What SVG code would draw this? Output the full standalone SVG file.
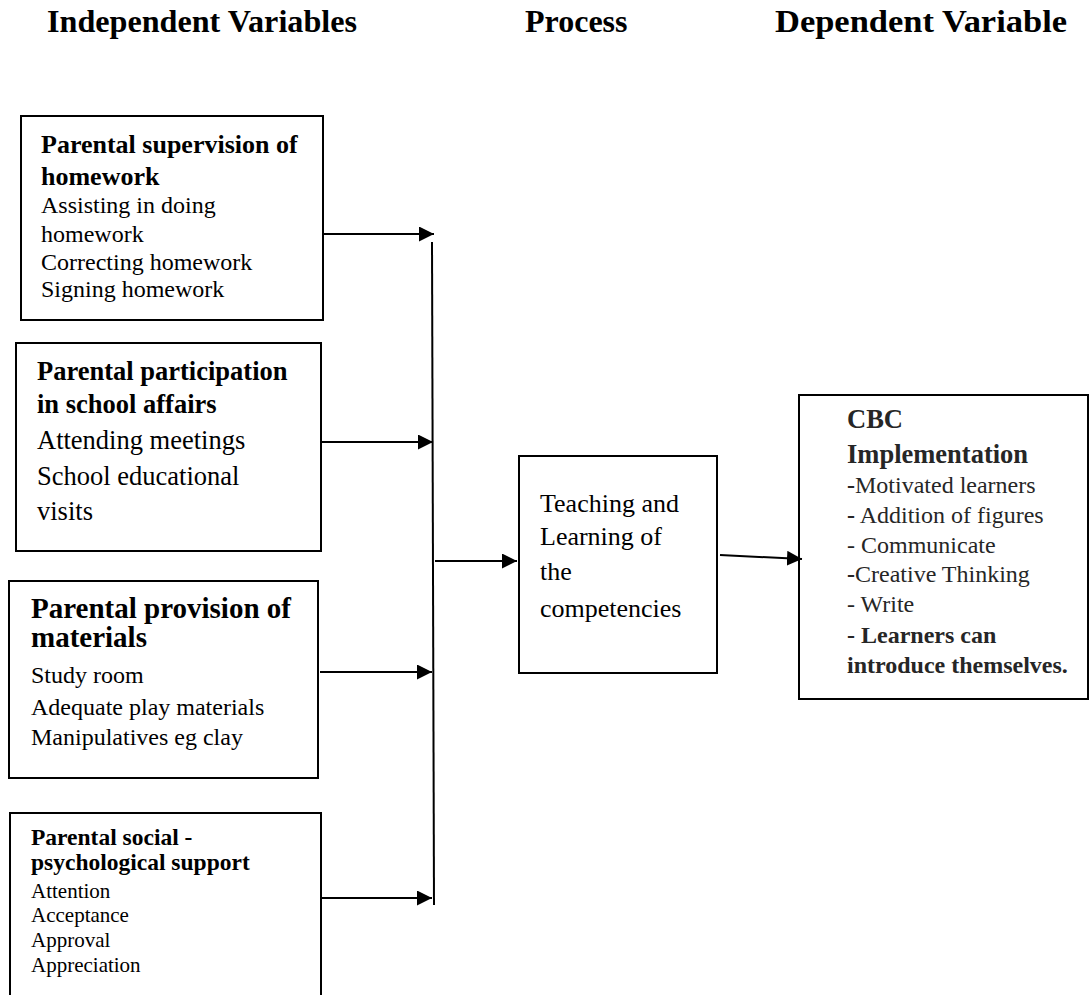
<svg xmlns="http://www.w3.org/2000/svg" width="1091" height="995" viewBox="0 0 1091 995">
  <style>
    text { font-family: "Liberation Serif", "Times New Roman", serif; fill: #000; }
    .hdr { font-size: 32px; font-weight: bold; }
    .box { fill: #fff; stroke: #000; stroke-width: 2; }
    .b { font-weight: bold; }
    .conn { stroke: #000; stroke-width: 2; fill: none; }
    .cbc text { fill: #262626; }
  </style>
  <defs>
    <marker id="arrow" markerUnits="userSpaceOnUse" markerWidth="15" markerHeight="15" refX="15" refY="7.5" orient="auto">
      <path d="M0,0 L15,7.5 L0,15 z" fill="#000"/>
    </marker>
  </defs>
  <rect width="1091" height="995" fill="#fff"/>

  <g id="headers">
    <text class="hdr" x="47" y="32" textLength="310" lengthAdjust="spacingAndGlyphs">Independent Variables</text>
    <text class="hdr" x="525" y="32">Process</text>
    <text class="hdr" x="775" y="32" textLength="292" lengthAdjust="spacingAndGlyphs">Dependent Variable</text>
  </g>

  <g id="supervision">
    <rect class="box" x="21" y="116" width="302" height="204"/>
    <text class="b" x="41" y="153" font-size="26">Parental supervision of</text>
    <text class="b" x="41" y="185" font-size="26">homework</text>
    <text x="41" y="213" font-size="24">Assisting in doing</text>
    <text x="41" y="242" font-size="24">homework</text>
    <text x="41" y="270" font-size="24">Correcting homework</text>
    <text x="41" y="297" font-size="24">Signing homework</text>
  </g>

  <g id="participation">
    <rect class="box" x="16" y="343" width="305" height="208"/>
    <text class="b" x="37" y="380" font-size="26.5">Parental participation</text>
    <text class="b" x="37" y="413" font-size="26.5">in school affairs</text>
    <text x="37" y="449" font-size="26.5">Attending meetings</text>
    <text x="37" y="485" font-size="26.5">School educational</text>
    <text x="37" y="520" font-size="26.5">visits</text>
  </g>

  <g id="provision">
    <rect class="box" x="9" y="581" width="309" height="197"/>
    <text class="b" x="31" y="618" font-size="29">Parental provision of</text>
    <text class="b" x="31" y="647" font-size="29">materials</text>
    <text x="31" y="683" font-size="24">Study room</text>
    <text x="31" y="715" font-size="24">Adequate play materials</text>
    <text x="31" y="745" font-size="24">Manipulatives eg clay</text>
  </g>

  <g id="social">
    <path class="box" d="M10,995 V813 H321 V995"/>
    <text class="b" x="31" y="845" font-size="23.5">Parental social -</text>
    <text class="b" x="31" y="870" font-size="23.5">psychological support</text>
    <text x="31" y="898" font-size="21">Attention</text>
    <text x="31" y="922" font-size="21">Acceptance</text>
    <text x="31" y="947" font-size="21">Approval</text>
    <text x="31" y="972" font-size="21">Appreciation</text>
  </g>

  <g id="process">
    <rect class="box" x="519" y="456" width="198" height="217"/>
    <text x="540" y="512" font-size="26">Teaching and</text>
    <text x="540" y="545" font-size="26">Learning of</text>
    <text x="540" y="580" font-size="26">the</text>
    <text x="540" y="617" font-size="26">competencies</text>
  </g>

  <g id="cbc" class="cbc">
    <rect class="box" x="799" y="395" width="289" height="304"/>
    <text class="b" x="847" y="428" font-size="26.5">CBC</text>
    <text class="b" x="847" y="463" font-size="26.5">Implementation</text>
    <text x="847" y="493" font-size="24"><tspan class="b">-</tspan>Motivated learners</text>
    <text x="847" y="523" font-size="24"><tspan class="b">-</tspan> Addition of figures</text>
    <text x="847" y="553" font-size="24">- Communicate</text>
    <text x="847" y="582" font-size="24"><tspan class="b">-</tspan>Creative Thinking</text>
    <text x="847" y="612" font-size="24">- Write</text>
    <text class="b" x="847" y="643" font-size="24">- Learners can</text>
    <text class="b" x="847" y="673" font-size="24">introduce themselves.</text>
  </g>

  <g id="connectors">
    <line class="conn" x1="432" y1="242" x2="434" y2="905"/>
    <line class="conn" x1="323" y1="234" x2="434" y2="234" marker-end="url(#arrow)"/>
    <line class="conn" x1="321" y1="442" x2="433" y2="442" marker-end="url(#arrow)"/>
    <line class="conn" x1="320" y1="672" x2="432" y2="672" marker-end="url(#arrow)"/>
    <line class="conn" x1="321" y1="898" x2="432" y2="898" marker-end="url(#arrow)"/>
    <line class="conn" x1="435" y1="561" x2="517" y2="561" marker-end="url(#arrow)"/>
    <line class="conn" x1="720" y1="555" x2="802" y2="559" marker-end="url(#arrow)"/>
  </g>
</svg>
